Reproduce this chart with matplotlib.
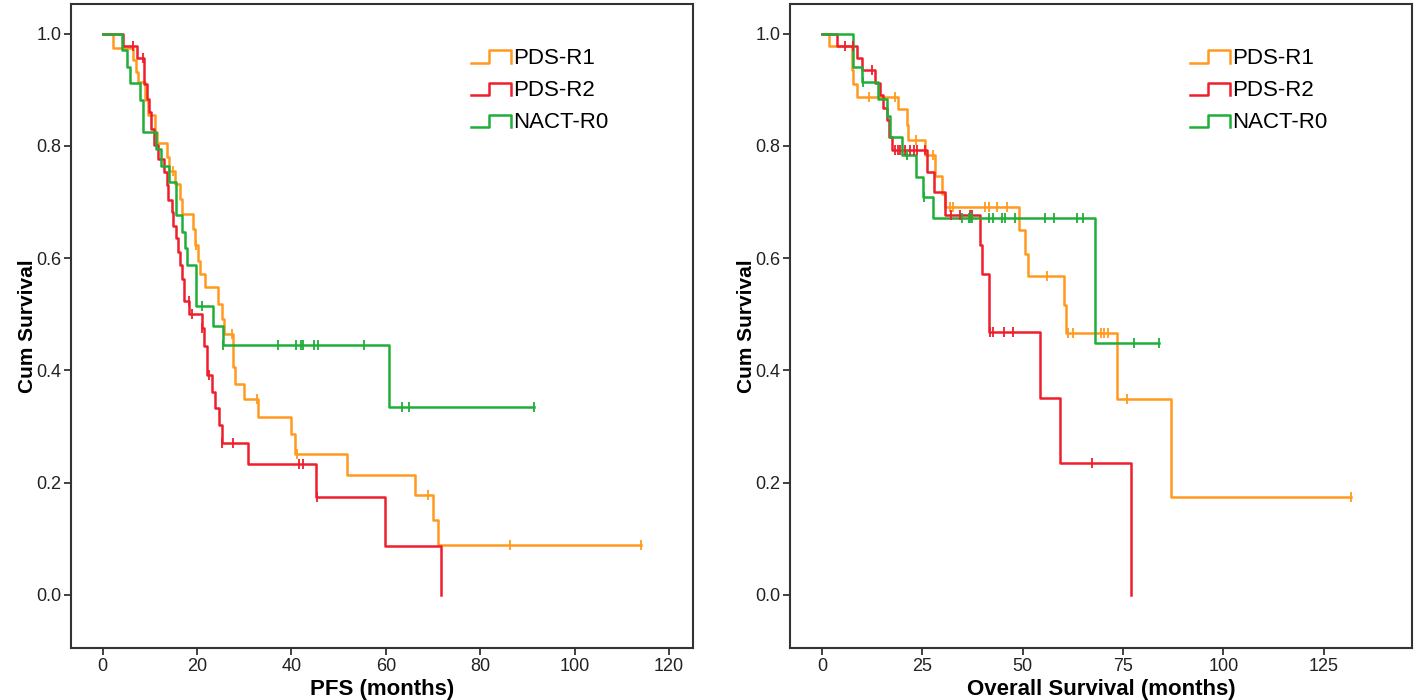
import numpy as np
import matplotlib
matplotlib.use("Agg")
import matplotlib.pyplot as plt
from matplotlib.legend_handler import HandlerBase
from matplotlib.lines import Line2D

plt.rcParams['font.family'] = ['Liberation Sans', 'DejaVu Sans']

orange = '#FF9A1E'
red = '#EE1F2D'
green = '#1FAF38'

# ---- PFS (left panel) ----
pfs_r1_t = [0, 2.2, 6.4, 7.0, 7.5, 9.0, 9.7, 11.1, 11.5, 13.7, 14.0, 15.4, 16.4, 16.8, 19.2, 19.6,
            20.2, 20.7, 21.7, 24.5, 25.2, 25.8, 27.7, 28.1, 30.0, 33.0, 39.9, 40.8, 51.7, 66.2,
            70.0, 71.1]
pfs_r1_s = [1.0, 0.975, 0.953, 0.932, 0.914, 0.881, 0.855, 0.825, 0.806, 0.780, 0.756, 0.733,
            0.706, 0.679, 0.652, 0.623, 0.595, 0.572, 0.548, 0.519, 0.492, 0.465, 0.406, 0.376,
            0.349, 0.317, 0.287, 0.251, 0.214, 0.178, 0.134, 0.088]
pfs_r1_end = 114.0
pfs_r1_cens = [14.9, 19.8, 27.4, 32.8, 41.2, 68.9, 86.3, 114.0]

pfs_r2_t = [0, 4.3, 7.2, 8.7, 9.5, 9.9, 10.3, 10.8, 11.8, 12.9, 13.6, 13.9, 14.7, 15.0, 15.6,
            15.9, 16.3, 16.8, 17.3, 18.4, 21.0, 21.5, 22.1, 23.1, 23.8, 24.7, 25.2, 30.9, 45.2,
            59.9, 71.7]
pfs_r2_s = [1.0, 0.979, 0.957, 0.911, 0.884, 0.861, 0.831, 0.801, 0.776, 0.753, 0.730, 0.703,
            0.682, 0.658, 0.635, 0.611, 0.587, 0.563, 0.523, 0.501, 0.475, 0.444, 0.391, 0.362,
            0.332, 0.302, 0.270, 0.233, 0.175, 0.0875, 0.0]
pfs_r2_end = 71.7
pfs_r2_cens = [6.4, 8.5, 18.2, 18.9, 21.1, 22.6, 25.3, 27.6, 41.7, 42.5, 45.4]

pfs_r0_t = [0, 4.1, 5.1, 5.8, 8.0, 8.5, 11.2, 12.3, 14.1, 15.6, 16.8, 17.5, 17.8, 19.8, 23.3,
            25.5, 60.6]
pfs_r0_s = [1.0, 0.971, 0.941, 0.912, 0.882, 0.824, 0.794, 0.765, 0.735, 0.676, 0.647, 0.618,
            0.588, 0.515, 0.479, 0.446, 0.334]
pfs_r0_end = 91.5
pfs_r0_cens = [21.0, 25.6, 37.2, 41.0, 42.0, 42.5, 44.7, 45.7, 55.3, 63.4, 65.0, 91.5]

# ---- OS (right panel) ----
os_r1_t = [0, 1.8, 7.4, 7.8, 8.8, 19.0, 21.1, 21.5, 25.7, 28.2, 29.8, 30.7, 49.2, 50.6, 51.3,
           60.2, 60.9, 73.4, 86.9]
os_r1_s = [1.0, 0.978, 0.935, 0.911, 0.887, 0.866, 0.837, 0.810, 0.783, 0.747, 0.715, 0.691,
           0.651, 0.608, 0.569, 0.517, 0.466, 0.349, 0.175]
os_r1_end = 131.9
os_r1_cens = [11.7, 18.2, 23.4, 27.6, 31.9, 32.6, 40.6, 41.5, 43.5, 46.0, 56.1, 61.4, 62.5,
              69.5, 70.3, 71.3, 75.9, 131.9]

os_r2_t = [0, 3.7, 8.7, 9.9, 13.2, 14.5, 15.3, 16.3, 16.8, 17.4, 26.1, 27.8, 30.7, 39.4, 39.8,
           41.5, 54.3, 59.3, 77.0]
os_r2_s = [1.0, 0.978, 0.957, 0.935, 0.912, 0.890, 0.868, 0.846, 0.816, 0.792, 0.753, 0.718,
           0.676, 0.623, 0.571, 0.468, 0.351, 0.234, 0.0]
os_r2_end = 77.0
os_r2_cens = [5.7, 7.6, 12.4, 18.2, 18.8, 19.4, 20.7, 21.9, 22.8, 23.6, 25.7, 32.1, 34.4, 36.9,
              37.3, 41.9, 42.7, 45.3, 47.6, 67.3]

os_r0_t = [0, 7.8, 9.9, 14.0, 16.1, 16.9, 19.9, 23.4, 25.1, 27.6, 68.0]
os_r0_s = [1.0, 0.941, 0.914, 0.884, 0.853, 0.816, 0.783, 0.745, 0.709, 0.672, 0.449]
os_r0_end = 84.0
os_r0_cens = [10.3, 21.1, 25.3, 34.8, 36.5, 36.9, 37.3, 41.5, 42.7, 44.8, 45.6, 48.1, 55.6,
              57.7, 63.5, 65.1, 77.8, 84.0]

labels = ['PDS-R1', 'PDS-R2', 'NACT-R0']


class StepHandler(HandlerBase):
    def create_artists(self, legend, orig_handle, xdescent, ydescent, width, height, fontsize, trans):
        xs = np.array([0, 0.45, 0.45, 1, 1]) * width - xdescent
        ys = np.array([0.05, 0.05, 0.85, 0.85, 0.05]) * height - ydescent
        ln = Line2D(xs, ys, color=orig_handle.get_color(), lw=orig_handle.get_linewidth(),
                    transform=trans)
        return [ln]


def km(ax, t, s, end, cens, color, label):
    t = np.asarray(t)
    s = np.asarray(s)
    tt = np.append(t, end)
    ss = np.append(s, s[-1])
    line, = ax.step(tt, ss, where='post', color=color, lw=1.8, label=label, zorder=3)
    idx = np.searchsorted(t, cens, side='right') - 1
    ax.plot(cens, s[idx], ls='none', marker='|', ms=6.5, mew=1.3, color=color, zorder=4)
    return line


fig = plt.figure(figsize=(14.18, 7.0), dpi=100)
ax1 = fig.add_axes([0.0501, 0.0743, 0.4386, 0.92])
ax2 = fig.add_axes([0.5571, 0.0743, 0.4386, 0.92])

h1 = [km(ax1, pfs_r1_t, pfs_r1_s, pfs_r1_end, pfs_r1_cens, orange, labels[0]),
      km(ax1, pfs_r2_t, pfs_r2_s, pfs_r2_end, pfs_r2_cens, red, labels[1]),
      km(ax1, pfs_r0_t, pfs_r0_s, pfs_r0_end, pfs_r0_cens, green, labels[2])]
h2 = [km(ax2, os_r1_t, os_r1_s, os_r1_end, os_r1_cens, orange, labels[0]),
      km(ax2, os_r2_t, os_r2_s, os_r2_end, os_r2_cens, red, labels[1]),
      km(ax2, os_r0_t, os_r0_s, os_r0_end, os_r0_cens, green, labels[2])]

ax1.set_xlim(-6.7, 125.1)
ax1.set_xticks(np.arange(0, 121, 20))
ax2.set_xlim(-8.0, 147.0)
ax2.set_xticks(np.arange(0, 126, 25))
ax1.set_xlabel('PFS (months)', fontsize=16, fontweight='bold', labelpad=3)
ax2.set_xlabel('Overall Survival (months)', fontsize=16, fontweight='bold', labelpad=3)

for ax, hs in [(ax1, h1), (ax2, h2)]:
    ax.set_ylim(-0.095, 1.053)
    ax.set_yticks(np.arange(0, 1.01, 0.2))
    ax.set_yticklabels(['%.1f' % v for v in np.arange(0, 1.01, 0.2)])
    ax.set_ylabel('Cum Survival', fontsize=15, fontweight='bold')
    ax.yaxis.set_label_coords(-0.055, 0.5)
    for sp in ax.spines.values():
        sp.set_linewidth(1.5)
        sp.set_color('#333333')
    ax.tick_params(direction='out', length=5, width=1.3, pad=2, colors='#333333',
                   labelsize=13, labelcolor='#222222')
    ax.legend(handles=hs, handler_map={Line2D: StepHandler()}, loc='upper left',
              bbox_to_anchor=(0.6286, 0.946), frameon=False, fontsize=16, handlelength=1.8,
              handletextpad=0.1, labelspacing=0.5, borderaxespad=0)

fig.savefig('out.png', dpi=100)
